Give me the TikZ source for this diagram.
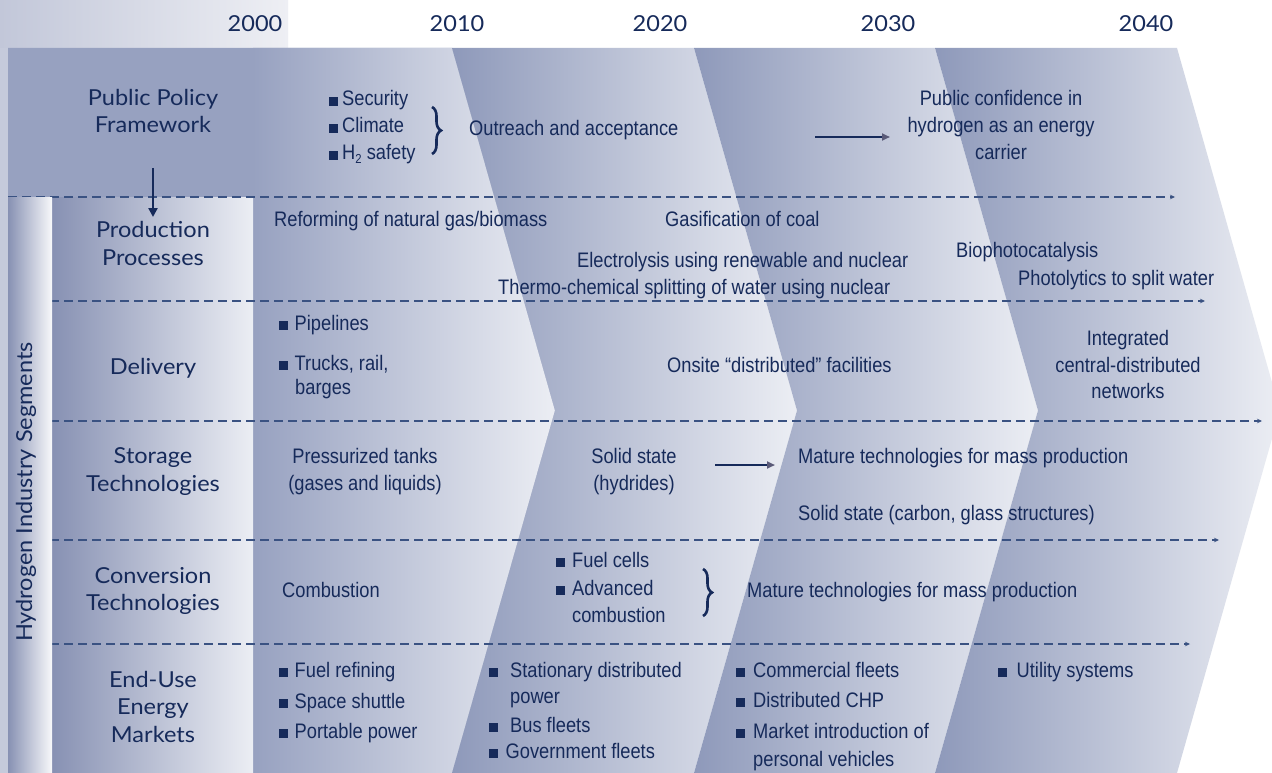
\documentclass[tikz,border=0pt]{standalone}
\usepackage{fontspec}
\setmainfont[FakeStretch=0.87]{Liberation Sans}
\newfontfamily\labfont[FakeStretch=1.07]{Lato}
\usetikzlibrary{arrows.meta,decorations.pathreplacing}
\definecolor{navy}{HTML}{162A5A}
\definecolor{dashc}{HTML}{3A5282}
\definecolor{tipc}{HTML}{5A5A78}
\definecolor{shdark}{HTML}{8E99BA}
\definecolor{shflat}{HTML}{97A1C0}
\definecolor{shlight}{HTML}{ECEEF4}
\definecolor{coldark}{HTML}{8791B3}
\definecolor{topdark}{HTML}{C2C7D9}
\definecolor{toplight}{HTML}{EEEFF4}
\newcommand\sqb[1]{\textcolor{navy}{\rule{9pt}{9pt}}\hspace{#1pt}}
\tikzset{
  ctext/.style={font=\fontsize{21}{27}\selectfont, text=navy, inner sep=0pt, anchor=base west},
  ctextc/.style={ctext, anchor=base},
  lab/.style={font=\labfont\fontsize{22}{28}\selectfont, text=navy, inner sep=0pt, anchor=base},
  yr/.style={font=\labfont\fontsize{22}{22}\selectfont, text=navy, inner sep=0pt, anchor=base},
  dline/.style={draw=dashc, line width=1.3pt, dash pattern=on 9pt off 5pt, -{Stealth[length=5pt,width=4.5pt]}},
  harrow/.style={draw=navy, line width=2.2pt, -{Triangle[length=8pt,width=7pt,color=tipc]}},
  varrow/.style={draw=navy, line width=2.6pt, -{Triangle[length=9pt,width=9pt]}},
  bracestyle/.style={draw=navy, line width=2.6pt, decorate, decoration={brace, amplitude=9pt}},
  chev/.style={left color=shdark, right color=shlight, draw=none}
}
\begin{document}
\begin{tikzpicture}[x=1pt,y=-1pt]
\useasboundingbox (0,0) rectangle (1272,773);
\clip (0,0) rectangle (1272,773);
% background
\fill[white] (0,0) rectangle (1272,773);
\shade[left color=topdark, right color=toplight] (0,0) rectangle (288,48);
\fill[topdark!95!white] (0,48) rectangle (8,773);
% chevron 1
\fill[shflat] (8,48) -- (452,48) -- (555,410.5) -- (452,773) -- (8,773) -- cycle;
\shade[left color=shflat, right color=shlight] (253,48) -- (452,48) -- (555,410.5) -- (452,773) -- (253,773) -- cycle;
% chevrons 2-4
\shade[chev] (452,48) -- (555,410.5) -- (452,773) -- (694,773) -- (797,410.5) -- (694,48) -- cycle;
\shade[chev] (694,48) -- (797,410.5) -- (694,773) -- (935,773) -- (1038,410.5) -- (935,48) -- cycle;
\shade[chev] (935,48) -- (1038,410.5) -- (935,773) -- (1177,773) -- (1280,410.5) -- (1177,48) -- cycle;
% label column
\shade[left color=coldark, right color=shlight] (52,197) rectangle (253,773);
% dashed separators
\coordinate (d1s) at (8,197);  \coordinate (d1e) at (1175,197);
\coordinate (d2s) at (8,301);  \coordinate (d2e) at (1205,301);
\coordinate (d3s) at (8,421);  \coordinate (d3e) at (1262,421);
\coordinate (d4s) at (8,540);  \coordinate (d4e) at (1219,540);
\coordinate (d5s) at (8,644);  \coordinate (d5e) at (1190,644);
\draw[dline] (d1s) -- (d1e);
\draw[dline] (d2s) -- (d2e);
\draw[dline] (d3s) -- (d3e);
\draw[dline] (d4s) -- (d4e);
\draw[dline] (d5s) -- (d5e);
% vertical bar
\shade[left color=coldark, right color=white!94!coldark] (8,197) rectangle (52,773);
\node[lab, rotate=90] (vbar) at (32,492) {Hydrogen Industry Segments};
% years
\node[yr] (y2000) at (255,32) {2000};
\node[yr] (y2010) at (457,32) {2010};
\node[yr] (y2020) at (660,32) {2020};
\node[yr] (y2030) at (888,32) {2030};
\node[yr] (y2040) at (1146,32) {2040};
% row labels
\node[lab] (lPP1) at (153,106) {Public Policy};
\node[lab] (lPP2) at (153,133) {Framework};
\node[lab] (lPr1) at (153,237) {Production};
\node[lab] (lPr2) at (153,265) {Processes};
\node[lab] (lDe) at (153,374) {Delivery};
\node[lab] (lSt1) at (153,463) {Storage};
\node[lab] (lSt2) at (153,491) {Technologies};
\node[lab] (lCo1) at (153,583) {Conversion};
\node[lab] (lCo2) at (153,610) {Technologies};
\node[lab] (lEU1) at (153,687) {End-Use};
\node[lab] (lEU2) at (153,714) {Energy};
\node[lab] (lEU3) at (153,742) {Markets};
\coordinate (dns) at (153,168); \coordinate (dne) at (153,217);
\draw[varrow] (dns) -- (dne);
% policy row
\node[ctext] (pSec) at (329,106) {\sqb{4}Security};
\node[ctext] (pCli) at (329,133) {\sqb{4}Climate};
\node[ctext] (pH2) at (329,160) {\sqb{4}H\raisebox{-4pt}{\fontsize{13}{13}\selectfont 2} safety};
\coordinate (b1t) at (432,107); \coordinate (b1b) at (432,154);
\draw[bracestyle] (b1t) -- (b1b);
\node[ctext] (pOut) at (469,136) {Outreach and acceptance};
\coordinate (a1s) at (815,137); \coordinate (a1e) at (890,137);
\draw[harrow] (a1s) -- (a1e);
\node[ctextc] (pConf1) at (1001,106) {Public confidence in};
\node[ctextc] (pConf2) at (1001,133) {hydrogen as an energy};
\node[ctextc] (pConf3) at (1001,160) {carrier};
% production row
\node[ctext] (rRef) at (274,226) {Reforming of natural gas/biomass};
\node[ctext] (rGas) at (665,226) {Gasification of coal};
\node[ctext] (rEle) at (577,267) {Electrolysis using renewable and nuclear};
\node[ctext] (rThe) at (498,294) {Thermo-chemical splitting of water using nuclear};
\node[ctext] (rBio) at (956,257) {Biophotocatalysis};
\node[ctext] (rPho) at (1018,285) {Photolytics to split water};
% delivery row
\node[ctext] (dPip) at (279,330) {\sqb{6.5}Pipelines};
\node[ctext] (dTru) at (279,370) {\sqb{6.5}Trucks, rail,};
\node[ctext] (dBar) at (295,394) {barges};
\node[ctext] (dOns) at (667,372) {Onsite “distributed” facilities};
\node[ctextc] (dInt1) at (1128,345) {Integrated};
\node[ctextc] (dInt2) at (1128,372) {central-distributed};
\node[ctextc] (dInt3) at (1128,398) {networks};
% storage row
\node[ctextc] (sPre1) at (365,463) {Pressurized tanks};
\node[ctextc] (sPre2) at (365,490) {(gases and liquids)};
\node[ctextc] (sSol1) at (634,463) {Solid state};
\node[ctextc] (sSol2) at (634,490) {(hydrides)};
\coordinate (a2s) at (715,465); \coordinate (a2e) at (775,465);
\draw[harrow] (a2s) -- (a2e);
\node[ctext] (sMat) at (798,463) {Mature technologies for mass production};
\node[ctext] (sCar) at (798,520) {Solid state (carbon, glass structures)};
% conversion row
\node[ctext] (cCom) at (282,597) {Combustion};
\node[ctext] (cFue) at (556,567) {\sqb{7}Fuel cells};
\node[ctext] (cAdv) at (556,595) {\sqb{7}Advanced};
\node[ctext] (cCmb) at (572,622) {combustion};
\coordinate (b2t) at (703,569); \coordinate (b2b) at (703,616);
\draw[bracestyle] (b2t) -- (b2b);
\node[ctext] (cMat) at (747,597) {Mature technologies for mass production};
% end-use row
\node[ctext] (eFue) at (279,677) {\sqb{6.5}Fuel refining};
\node[ctext] (eSpa) at (279,708) {\sqb{6.5}Space shuttle};
\node[ctext] (ePor) at (279,738) {\sqb{6.5}Portable power};
\node[ctext] (eSta) at (489,677) {\sqb{12}Stationary distributed};
\node[ctext] (ePow) at (510,703) {power};
\node[ctext] (eBus) at (489,732) {\sqb{12}Bus fleets};
\node[ctext] (eGov) at (489,758) {\sqb{7.5}Government fleets};
\node[ctext] (eCom) at (736,677) {\sqb{8}Commercial fleets};
\node[ctext] (eDis) at (736,707) {\sqb{8}Distributed CHP};
\node[ctext] (eMar) at (736,738) {\sqb{8}Market introduction of};
\node[ctext] (ePer) at (753,766) {personal vehicles};
\node[ctext] (eUti) at (998,677) {\sqb{9.5}Utility systems};
\end{tikzpicture}
\end{document}
